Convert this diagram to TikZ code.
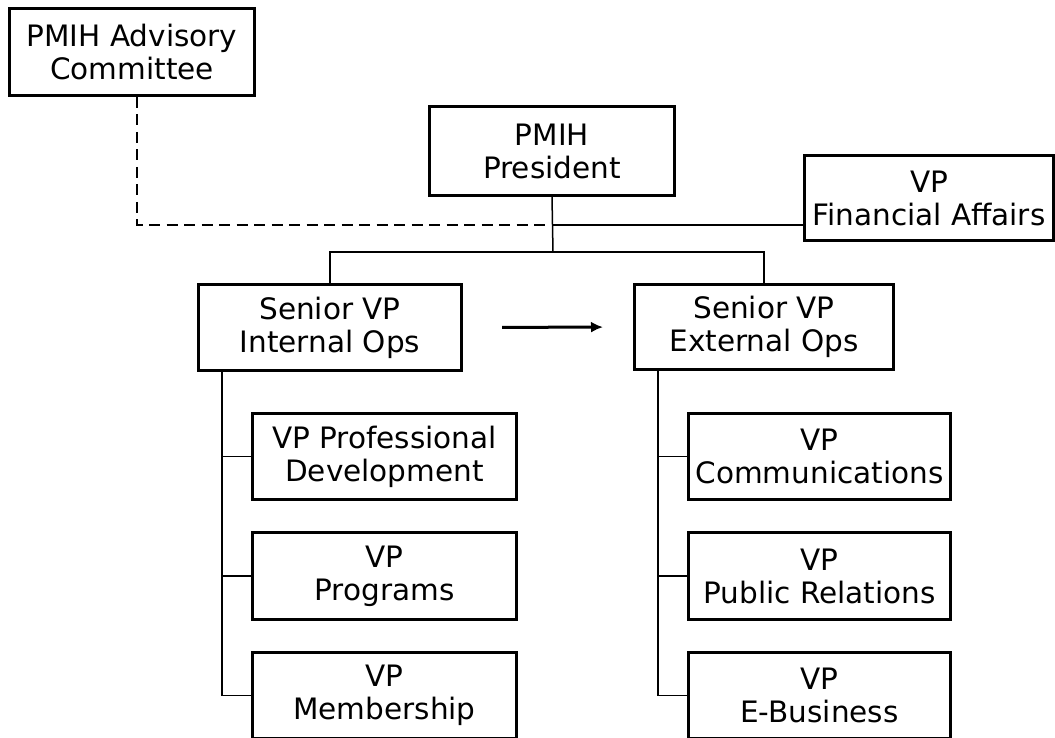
\documentclass[tikz,border=0pt]{standalone}
\usepackage{fontspec}
\setmainfont{DejaVu Sans}
\usetikzlibrary{arrows.meta}
\begin{document}
\begin{tikzpicture}[x=1pt,y=-1pt,
  orgbox/.style={draw=black, line width=3pt, fill=white, align=center, inner sep=0pt,
    font=\fontsize{29.5}{33}\selectfont},
  link/.style={draw=black, line width=1.5pt},
  dashlink/.style={draw=black, line width=1.5pt, dash pattern=on 11pt off 6.5pt},
  arrowlink/.style={draw=black, line width=3pt, -{Latex[length=12pt,width=11pt]}}]
\useasboundingbox[fill=white] (0,0) rectangle (1055,738);

% nodes
\node[orgbox, minimum width=245pt, minimum height=87pt] (adv) at (132,52) {PMIH Advisory\\Committee};
\node[orgbox, minimum width=245pt, minimum height=89pt] (pres) at (552,151) {PMIH\\President};
\node[orgbox, minimum width=249pt, minimum height=85pt] (fin) at (929,198) {VP\\Financial Affairs};
\node[orgbox, minimum width=263pt, minimum height=86pt] (int) at (330,327.5) {Senior VP\\Internal Ops};
\node[orgbox, minimum width=259pt, minimum height=85pt] (ext) at (764,327) {Senior VP\\External Ops};

\node[orgbox, minimum width=264pt, minimum height=86pt] (pd) at (384.5,456.5) {VP Professional\\Development};
\node[orgbox, minimum width=264pt, minimum height=87pt] (pg) at (384.5,576) {VP\\Programs};
\node[orgbox, minimum width=264pt, minimum height=86pt] (mb) at (384.5,695.5) {VP\\Membership};

\node[orgbox, minimum width=262pt, minimum height=86pt] (com) at (819.5,456.5) {VP\\Communications};
\node[orgbox, minimum width=262pt, minimum height=87pt] (pr) at (819.5,576) {VP\\Public Relations};
\node[orgbox, minimum width=262pt, minimum height=86pt] (eb) at (819.5,695.5) {VP\\E-Business};

% junction coordinates
\coordinate (j1) at (553,225);
\coordinate (j2) at (553,252);
\coordinate (lc) at (222,372);
\coordinate (rc) at (658,371);

% connectors
\draw[dashlink] ([xshift=5pt]adv.south) |- (j1);
\draw[link] (pres.south) -- (j2);
\draw[link] (j1) -- (j1 -| fin.west);
\draw[link] (int.north) |- (j2) -| (ext.north);
\draw[arrowlink, shorten <=39pt, shorten >=30pt] (int.east) -- (ext.west);

\draw[link] (lc) |- (pd.west);
\draw[link] (lc) |- (pg.west);
\draw[link] (lc) |- (mb.west);

\draw[link] (rc) |- (com.west);
\draw[link] (rc) |- (pr.west);
\draw[link] (rc) |- (eb.west);
\end{tikzpicture}
\end{document}
